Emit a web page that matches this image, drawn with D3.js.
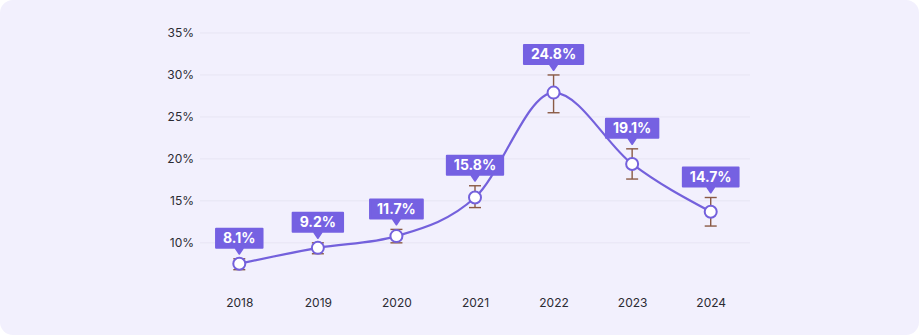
<!DOCTYPE html>
<html>
<head>
<meta charset="utf-8">
<script src="https://cdn.jsdelivr.net/npm/d3@7"></script>
<style>
  html, body { margin: 0; padding: 0; background: #fff; }
  svg { display: block; font-family: Inter, "Noto Sans", sans-serif; }
</style>
</head>
<body>
<div id="chart"></div>
<script>
// data
var years = ['2018', '2019', '2020', '2021', '2022', '2023', '2024']
var values = [7.5, 9.4, 10.8, 15.4, 27.9, 19.4, 13.7]
var errHigh = [8.1, 10.0, 11.6, 16.8, 30.0, 21.2, 15.4]
var errLow = [6.8, 8.7, 10.0, 14.2, 25.5, 17.6, 12.0]
var labels = ['8.1%', '9.2%', '11.7%', '15.8%', '24.8%', '19.1%', '14.7%']
var yTicks = [10, 15, 20, 25, 30, 35]

var width = 919
var height = 336

var svg = d3.select('#chart')
    .append('svg')
    .attr('width', width)
    .attr('height', height)

// card background
svg.append('rect')
    .attr('x', 0)
    .attr('y', 0)
    .attr('width', width)
    .attr('height', height - 1)
    .attr('rx', 13)
    .style('fill', '#f2f0fd')

var x = d3.scalePoint()
    .domain(years)
    .range([200, 750])
    .padding(0.5)

var y = d3.scaleLinear()
    .domain([5, 35])
    .range([284.8, 33])

// grid lines
svg.append('g')
    .selectAll('line')
    .data(yTicks)
    .enter().append('line')
    .attr('x1', 200)
    .attr('x2', 750)
    .attr('y1', function (d) { return y(d) })
    .attr('y2', function (d) { return y(d) })
    .style('stroke', '#e7e5f3')
    .style('stroke-width', 1)

// y axis
var gy = svg.append('g')
    .attr('transform', 'translate(200,0)')
    .call(d3.axisLeft(y).tickValues(yTicks).tickSize(0).tickPadding(6)
        .tickFormat(function (d) { return d + '%' }))
gy.select('.domain').remove()
gy.selectAll('text')
    .style('font-family', 'Inter, sans-serif')
    .style('font-size', '12px')
    .style('fill', '#2b2b33')

// x axis
var gx = svg.append('g')
    .attr('transform', 'translate(0,296)')
    .call(d3.axisBottom(x).tickSize(0).tickPadding(2))
gx.select('.domain').remove()
gx.selectAll('text')
    .style('font-family', 'Inter, sans-serif')
    .style('font-size', '12px')
    .style('fill', '#2b2b33')

var pts = years.map(function (yr, i) {
    return { year: yr, v: values[i], hi: errHigh[i], lo: errLow[i], label: labels[i] }
})

// line
var line = d3.line()
    .x(function (d) { return x(d.year) })
    .y(function (d) { return y(d.v) })
    .curve(d3.curveMonotoneX)

svg.append('path')
    .datum(pts)
    .attr('d', line)
    .style('fill', 'none')
    .style('stroke', '#7461dc')
    .style('stroke-width', 2.2)

// error bars
var err = svg.append('g').selectAll('g')
    .data(pts)
    .enter().append('g')
    .style('stroke', '#8a5a44')
    .style('stroke-width', 1.4)
err.append('line')
    .attr('x1', function (d) { return x(d.year) })
    .attr('x2', function (d) { return x(d.year) })
    .attr('y1', function (d) { return y(d.hi) })
    .attr('y2', function (d) { return y(d.lo) })
err.append('line')
    .attr('x1', function (d) { return x(d.year) - 6 })
    .attr('x2', function (d) { return x(d.year) + 6 })
    .attr('y1', function (d) { return y(d.hi) })
    .attr('y2', function (d) { return y(d.hi) })
err.append('line')
    .attr('x1', function (d) { return x(d.year) - 6 })
    .attr('x2', function (d) { return x(d.year) + 6 })
    .attr('y1', function (d) { return y(d.lo) })
    .attr('y2', function (d) { return y(d.lo) })

// points
svg.append('g').selectAll('circle')
    .data(pts)
    .enter().append('circle')
    .attr('cx', function (d) { return x(d.year) })
    .attr('cy', function (d) { return y(d.v) })
    .attr('r', 6)
    .style('fill', '#fff')
    .style('stroke', '#7461dc')
    .style('stroke-width', 2)

// value labels
var tag = svg.append('g').selectAll('g')
    .data(pts)
    .enter().append('g')
    .attr('transform', function (d) {
        return 'translate(' + x(d.year) + ',' + (y(d.hi) - 5) + ')'
    })

tag.append('text')
    .attr('x', 0)
    .attr('y', -10.5)
    .attr('text-anchor', 'middle')
    .style('font-family', 'Inter, sans-serif')
    .style('font-weight', 700)
    .style('font-size', '14px')
    .style('fill', '#fff')
    .text(function (d) { return d.label })

tag.each(function () {
    var g = d3.select(this)
    var w = g.select('text').node().getComputedTextLength() + 14
    g.insert('path', 'text')
        .attr('d', 'M' + (-w / 2) + ',-25 h' + w + ' v19 H4 L0,0 L-4,-6 H' + (-w / 2) + ' Z')
        .attr('stroke-linejoin', 'round')
        .style('fill', '#7561e2')
        .style('stroke', '#7561e2')
        .style('stroke-width', 2)
})
</script>
</body>
</html>
